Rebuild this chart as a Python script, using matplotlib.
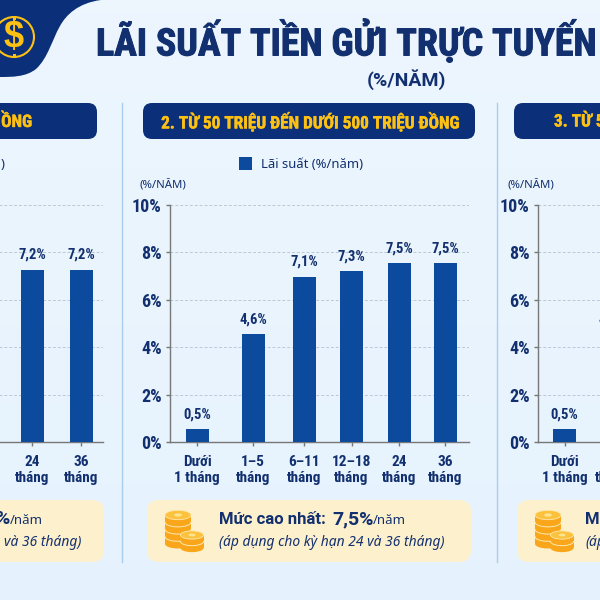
import numpy as np
import matplotlib
matplotlib.use("Agg")
from matplotlib import pyplot as plt
from matplotlib import patheffects as pe
from matplotlib.patches import FancyBboxPatch, PathPatch, Ellipse, Circle, Rectangle
from matplotlib.path import Path

# du lieu doc tu hinh
mid_labels = ["Dưới\n1 tháng", "1–5\ntháng", "6–11\ntháng", "12–18\ntháng", "24\ntháng", "36\ntháng"]
mid_values = [0.5, 4.6, 7.1, 7.3, 7.5, 7.5]
mid_heights = [0.55, 4.56, 6.98, 7.22, 7.55, 7.55]
left_labels = ["24\ntháng", "36\ntháng"]
left_values = [7.2, 7.2]
left_heights = [7.27, 7.27]
right_labels = ["Dưới\n1 tháng", "1–5\ntháng"]
right_values = [0.5, 4.6]
right_heights = [0.55, 4.56]
y_ticks = [0, 2, 4, 6, 8, 10]

NAVY = "#12306f"
DARK = "#0b2f78"
BAR = "#0b4a9c"
YEL = "#fdc113"
COND = ["Roboto Condensed", "Liberation Sans"]
SANS = ["Noto Sans", "Liberation Sans"]
HEAD = ["Roboto", "Liberation Sans"]

fig = plt.figure(figsize=(6, 6), dpi=100)
bg = fig.add_axes([0, 0, 1, 1])
grad = np.linspace(0, 1, 256).reshape(-1, 1)
c0 = np.array([0.93, 0.965, 0.995])
c1 = np.array([0.90, 0.95, 0.995])
bg.imshow((c0 + (c1 - c0) * grad).reshape(256, 1, 3), extent=[0, 600, 600, 0], aspect="auto", zorder=0)
bg.set_xlim(0, 600)
bg.set_ylim(600, 0)
bg.axis("off")

# goc trai tren
verts = [(0, 0), (101, 0), (78, 3), (66, 15), (60, 26), (52, 40), (48, 58), (36, 69), (26, 77), (12, 77), (0, 77), (0, 0)]
codes = [Path.MOVETO, Path.LINETO, Path.CURVE4, Path.CURVE4, Path.CURVE4, Path.CURVE4, Path.CURVE4, Path.CURVE4,
         Path.CURVE4, Path.CURVE4, Path.LINETO, Path.CLOSEPOLY]
bg.add_patch(PathPatch(Path(verts, codes), fc=DARK, ec="none", zorder=1))
bg.add_patch(Circle((14, 37), 20, fc="none", ec=YEL, lw=1.5, zorder=2))
bg.add_patch(Rectangle((12.5, 16), 3, 4, fc=YEL, ec="none", zorder=2))
bg.add_patch(Rectangle((12.5, 54), 3, 4, fc=YEL, ec="none", zorder=2))
bg.text(14, 37, "$", color=YEL, fontsize=26, fontweight="bold", ha="center", va="center",
        family="Liberation Sans", zorder=3, parse_math=False)

heavy = [pe.withStroke(linewidth=0.7, foreground=NAVY)]
heavy_y = [pe.withStroke(linewidth=0.3, foreground=YEL)]
bg.text(96, 41, "LÃI SUẤT TIỀN GỬI TRỰC TUYẾN", color=NAVY, fontsize=27.3, fontweight="bold", family=COND,
        ha="left", va="center", zorder=3, path_effects=heavy)
bg.text(406, 80, "(%/NĂM)", color=NAVY, fontsize=14, fontweight="bold", family=HEAD, ha="center", va="center", zorder=3)

# duong ngan cach
for x in (122, 497):
    bg.plot([x, x], [103, 562], color="#a9cdee", lw=1, zorder=1)


def pill(x0, y0, x1, y1, r, fc):
    bg.add_patch(FancyBboxPatch((x0 + r, y0 + r), x1 - x0 - 2 * r, y1 - y0 - 2 * r,
                                boxstyle="round,pad=%f,rounding_size=%f" % (r, r), fc=fc, ec="none", zorder=2))


pill(-40, 103, 97, 139, 9, DARK)
pill(143, 103, 475, 139, 9, DARK)
pill(514, 103, 660, 139, 9, DARK)
bg.text(32, 122, "ỒNG", color=YEL, fontsize=12.4, fontweight="bold", family=COND, ha="right", va="center", zorder=3, path_effects=heavy_y)
bg.text(310.5, 122, "2. TỪ 50 TRIỆU ĐẾN DƯỚI 500 TRIỆU ĐỒNG", color=YEL, fontsize=12.4, fontweight="bold", family=COND,
        ha="center", va="center", zorder=3, path_effects=heavy_y)
bg.text(554, 122, "3. TỪ 5", color=YEL, fontsize=12.4, fontweight="bold", family=COND, ha="left", va="center", zorder=3, path_effects=heavy_y)

# chu giai
bg.add_patch(Rectangle((239, 157), 13, 13, fc=BAR, ec="none", zorder=3))
bg.text(261, 164, "Lãi suất (%/năm)", color=NAVY, fontsize=9.4, family=SANS, va="center", zorder=3)
bg.text(5, 164, ")", color=NAVY, fontsize=9.4, family=SANS, ha="right", va="center", zorder=3)


def panel(x_axis, x_end, xs, labels, values, heights):
    ax = fig.add_axes([x_axis / 600, (600 - 442) / 600, (x_end - x_axis) / 600, (442 - 205) / 600])
    ax.patch.set_alpha(0)
    ax.set_xlim(x_axis, x_end)
    ax.set_ylim(0, 10)
    ax.bar(xs, heights, width=23, color=BAR, zorder=3)
    for x, v, h in zip(xs, values, heights):
        ax.text(x, h + 0.33, ("%.1f%%" % v).replace(".", ","), color=NAVY, fontsize=10.5, fontweight="bold",
                family=COND, ha="center", va="bottom")
    ax.set_xticks(xs)
    ax.set_xticklabels(labels, color=NAVY, fontsize=11, fontweight="bold", family=COND, linespacing=1.2)
    ax.set_yticks(y_ticks)
    ax.set_yticklabels(["%d%%" % t for t in y_ticks], color=NAVY, fontsize=13, fontweight="bold", family=COND)
    ax.tick_params(axis="x", length=3, color="#777777", width=1, pad=6)
    ax.tick_params(axis="y", length=3, color="#777777", width=1, pad=3)
    ax.grid(axis="y", color="#b9c9d8", lw=0.7, ls=(0, (3, 2)), zorder=0)
    ax.grid(axis="x", visible=False)
    for s in ("top", "right"):
        ax.spines[s].set_visible(False)
    for s in ("left", "bottom"):
        ax.spines[s].set_color("#777777")
        ax.spines[s].set_linewidth(1)
    return ax


panel(-197, 103, [32, 81], left_labels, left_values, left_heights)
panel(170, 469, [197, 253, 304, 351.5, 399, 445], mid_labels, mid_values, mid_heights)
panel(538, 837, [564.5, 612], right_labels, right_values, right_heights)

bg.text(139, 185, "(%/NĂM)", color=NAVY, fontsize=8.2, family=SANS, va="center", zorder=3)
bg.text(507, 185, "(%/NĂM)", color=NAVY, fontsize=8.2, family=SANS, va="center", zorder=3)

# hop muc cao nhat
pill(-30, 500, 104, 562, 12, "#fdf0cd")
pill(147, 500, 471, 562, 12, "#fdf0cd")
pill(517, 500, 660, 562, 12, "#fdf0cd")


def stack(cx, top, n, w, step, z):
    eh = w * 0.36
    bg.add_patch(Rectangle((cx - w / 2, top), w, step * n, fc="#f9a61a", ec="none", zorder=z))
    t = np.linspace(0, np.pi, 30)
    for k in range(1, n):
        yy = top + k * step
        bg.plot(cx + w / 2 * np.cos(t), yy + eh / 2 * np.sin(t), color="#ffe9b0", lw=0.7, zorder=z)
    bg.add_patch(Ellipse((cx, top + step * n), w, eh, fc="#f9a61a", ec="none", zorder=z - 0.1))
    bg.add_patch(Ellipse((cx, top), w, eh, fc="#fcc23e", ec="#ffe9b0", lw=0.6, zorder=z))
    bg.add_patch(Ellipse((cx, top), w * 0.3, eh * 0.35, fc="#fde48f", ec="none", zorder=z))


def coins(cx):
    stack(cx, 515, 4, 26, 7.2, 3)
    stack(cx + 14, 535, 2, 23, 6.5, 4)


coins(178)
coins(548)

bg.text(219, 519, "Mức cao nhất:", color=NAVY, fontsize=12, fontweight="bold", family=HEAD, va="center", zorder=4)
bg.text(332, 519, "7,5%", color=NAVY, fontsize=14, fontweight="bold", family=HEAD, va="center", zorder=4)
bg.text(373, 520, "/năm", color=NAVY, fontsize=9.5, family=SANS, va="center", zorder=4)
bg.text(219, 543, "(áp dụng cho kỳ hạn 24 và 36 tháng)", color=NAVY, fontsize=9.95, style="italic", family=SANS, va="center", zorder=4)
bg.text(9, 519, "%", color=NAVY, fontsize=14, fontweight="bold", family=HEAD, ha="right", va="center", zorder=4)
bg.text(10, 520, "/năm", color=NAVY, fontsize=9.5, family=SANS, va="center", zorder=4)
bg.text(81, 543, "và 36 tháng)", color=NAVY, fontsize=9.95, style="italic", family=SANS, va="center", ha="right", zorder=4)
bg.text(585, 519, "M", color=NAVY, fontsize=12, fontweight="bold", family=HEAD, va="center", zorder=4)
bg.text(585, 543, "(áp", color=NAVY, fontsize=9.95, style="italic", family=SANS, va="center", zorder=4)

fig.savefig("out.png", dpi=100)
